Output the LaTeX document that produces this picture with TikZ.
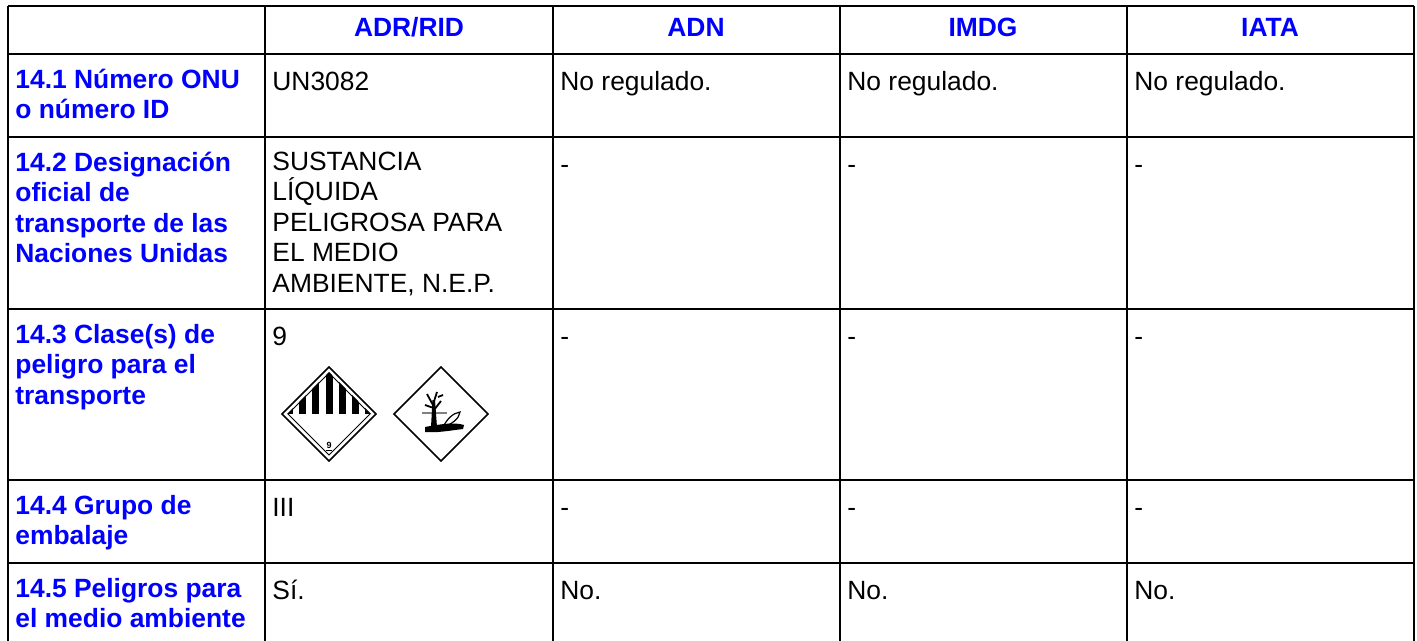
\documentclass[tikz,border=0pt]{standalone}
\usepackage{fontspec}
\setmainfont{Liberation Sans}
\usetikzlibrary{calc,positioning}

\begin{document}
\begin{tikzpicture}[x=0.5pt,y=-0.5pt,
  cell/.style={anchor=north west,inner sep=0pt,align=left,yshift=10.64pt,
    font=\fontsize{13.2}{15.2}\selectfont,execute at begin node=\strut},
  head/.style={anchor=base,inner sep=0pt,font=\fontsize{13.2}{15.2}\selectfont\bfseries,text=blue},
  topic/.style={cell,font=\fontsize{13.2}{15.2}\selectfont\bfseries,text=blue},
  hline/.style={line width=1pt},
  vline/.style={line width=0.65pt}]
\useasboundingbox (0,0) rectangle (1417,641);
% grid
\foreach \y in {6,54,137,309,480,563} \draw[hline] (8,\y) -- (1414,\y);
\foreach \x in {265,553,840,1127} \draw[vline] (\x,6) -- (\x,641);
\draw[hline] (8,6) -- (8,641);
\draw[hline] (1414,6) -- (1414,641);
% header
\node[head] (hadr) at (409,37) {ADR/RID};
\node[head] (hadn) at (696,37) {ADN};
\node[head] (himdg) at (983,37) {IMDG};
\node[head] (hiata) at (1270,37) {IATA};
% first column
\node[topic] (q1) at (15,90) {14.1 Número ONU\\o número ID};
\node[topic] (q2) at (15,173) {14.2 Designación\\oficial de\\transporte de las\\Naciones Unidas};
\node[topic] (q3) at (15,345) {14.3 Clase(s) de\\peligro para el\\transporte};
\node[topic] (q4) at (15,516) {14.4 Grupo de\\embalaje};
\node[topic] (q5) at (15,599) {14.5 Peligros para\\el medio ambiente};
% ADR/RID
\node[cell] (adr1) at (272,90) {UN3082};
\node[cell] (adr2) at (272,173) {SUSTANCIA\\LÍQUIDA\\PELIGROSA PARA\\EL MEDIO\\AMBIENTE, N.E.P.};
\node[cell] (adr3) at (272,345) {9};
\node[cell] (adr4) at (272,516) {III};
\node[cell] (adr5) at (272,599) {Sí.};
% ADN, IMDG, IATA
\foreach \x/\n in {560/adn,847/imdg,1134/iata} {
  \node[cell] (\n1) at (\x,90) {No regulado.};
  \node[cell] (\n2) at (\x,173) {-};
  \node[cell] (\n3) at (\x,345) {-};
  \node[cell] (\n4) at (\x,516) {-};
  \node[cell] (\n5) at (\x,599) {No.};
}
% class 9 label
\begin{scope}[shift={(329,414)}]
  \begin{scope}
    \clip (-42,0) -- (0,-42) -- (42,0) -- (0,42) -- cycle;
    \foreach \k in {-3,...,3} \fill (\k*13.3-3.5,-48) rectangle ++(7,48);
  \end{scope}
  \draw[line width=0.8pt] (-47,0) -- (0,-47) -- (47,0) -- (0,47) -- cycle;
  \draw[line width=0.5pt] (-41,0) -- (0,-41) -- (41,0) -- (0,41) -- cycle;
  \node[inner sep=0pt,font=\fontsize{4.5}{5}\selectfont\bfseries] (nine) at (0,31) {9};
  \draw[line width=0.4pt] (-3,36) -- (3,36);
\end{scope}
% environment label
\begin{scope}[shift={(441,414)}]
  \draw[line width=0.8pt] (-47,0) -- (0,-47) -- (47,0) -- (0,47) -- cycle;
  \draw[gray,line width=0.6pt] (-19,-1) -- (6,-1);
  \fill (-10,13) -- (-8.5,-14) -- (-6,-14) -- (-4,13) -- cycle;
  \draw[line width=0.9pt] (-7.5,-8) -- (-14,-20) (-7.5,-11) -- (-4,-22)
    (-7,-4) -- (0,-13) (-7.5,-6) -- (-16,-9) (-3,-17) -- (2,-19);
  \draw[line width=0.6pt,fill=white] (2,13) .. controls (6,5) and (12,-1) .. (19,-2)
    .. controls (18,5) and (11,10) .. (2,13) -- cycle;
  \fill (-16,13) .. controls (0,10) and (14,8) .. (23,11) -- (22,15)
    .. controls (6,17) and (-5,19) .. (-16,18) -- cycle;
\end{scope}
\end{tikzpicture}
\end{document}
